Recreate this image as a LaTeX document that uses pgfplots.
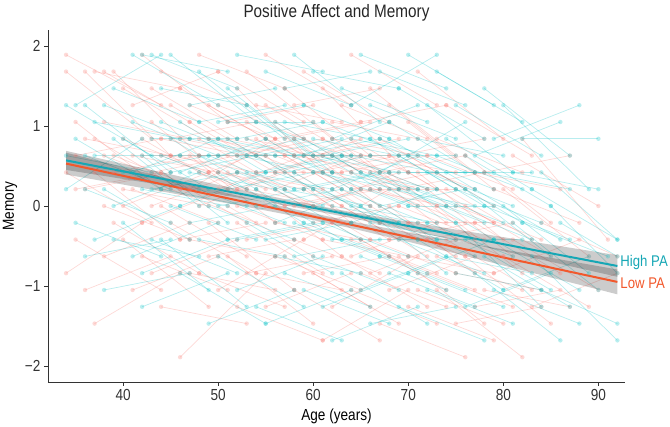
\documentclass[border=0pt]{standalone}
\usepackage{fontspec}
\setmainfont{Liberation Sans}[FakeStretch=0.85]
\usepackage{pgfplots}
\pgfplotsset{compat=1.18}
\definecolor{lowc}{HTML}{F8766D}
\definecolor{highc}{HTML}{00BFC4}
\definecolor{lowline}{HTML}{F2582C}
\definecolor{highline}{HTML}{16A7B5}
\definecolor{axc}{HTML}{333333}
\pgfplotsset{
  lowseg/.style={color=lowc, line width=0.7pt, draw opacity=0.28, mark=*, mark size=2.2pt,
    mark options={fill=lowc, fill opacity=0.27, draw opacity=0}},
  highseg/.style={color=highc, line width=0.7pt, draw opacity=0.28, mark=*, mark size=2.2pt,
    mark options={fill=highc, fill opacity=0.27, draw opacity=0}},
}
\newcommand{\lo}[4]{\addplot[lowseg] coordinates {(#1,#2) (#3,#4)};}
\newcommand{\hi}[4]{\addplot[highseg] coordinates {(#1,#2) (#3,#4)};}
\begin{document}
\begin{tikzpicture}
\begin{axis}[
  scale only axis, width=577pt, height=352pt,
  xmin=32.1, xmax=92.8, ymin=-2.2, ymax=2.2,
  clip=false,
  axis lines=left, axis line style={-, axc, line width=0.8pt},
  tick style={axc, line width=0.8pt}, tick align=outside, major tick length=4pt,
  xtick={40,50,60,70,80,90}, xticklabels={40,50,60,70,80,90},
  ytick={-2,-1,0,1,2}, yticklabels={−2,−1,0,1,2},
  ticklabel style={font=\fontsize{16}{18}\selectfont, text=axc},
  /pgf/number format/assume math mode=true,
  title={Positive Affect and Memory},
  title style={font=\fontsize{18}{21}\selectfont, text=black!85, at={(axis description cs:0.5,1)}, anchor=south, inner sep=0pt, yshift=3pt},
  xlabel={Age (years)}, ylabel={Memory},
  xlabel style={font=\fontsize{16}{19}\selectfont, at={(axis description cs:0.5,-0.0966)}, anchor=center},
  ylabel style={font=\fontsize{16}{19}\selectfont, at={(axis description cs:-0.066,0.5)}, anchor=center},
]
% Low PA individual trajectories
\lo{34}{1.68}{43}{0.84}\lo{34}{1.89}{44}{1.26}\lo{34}{0.42}{43}{-0.21}\lo{34}{-0.84}{42}{-0.21}
\lo{35}{1.05}{44}{0.21}\lo{35}{0.63}{44}{0.84}\lo{35}{-0.42}{44}{-1.05}\lo{36}{1.68}{45}{0.63}
\lo{36}{0.21}{45}{0.42}\lo{36}{-1.05}{45}{-0.63}\lo{37}{-1.47}{46}{-0.84}\lo{37}{1.68}{46}{1.47}
\lo{37}{0.84}{46}{0.21}\lo{38}{1.68}{47}{1.05}\lo{38}{0}{47}{-0.42}\lo{38}{-0.63}{47}{-0.21}
\lo{39}{1.68}{48}{0.63}\lo{39}{0.42}{48}{0.63}\lo{39}{-0.21}{48}{-0.84}\lo{40}{1.47}{49}{0.84}
\lo{40}{0.84}{49}{0.42}\lo{40}{-0.42}{49}{-1.26}\lo{41}{1.26}{50}{1.68}\lo{41}{0.21}{50}{-0.21}
\lo{41}{-1.05}{50}{-0.63}\lo{42}{1.89}{51}{1.05}\lo{42}{0.63}{51}{0.63}\lo{42}{-0.63}{51}{-1.05}
\lo{43}{1.05}{52}{0.21}\lo{43}{0}{52}{0.42}\lo{43}{-0.84}{52}{-0.42}\lo{44}{1.68}{53}{1.26}
\lo{44}{0.42}{53}{-0.21}\lo{44}{-1.26}{53}{-1.47}\lo{45}{1.26}{54}{0.63}\lo{45}{0.84}{54}{1.05}
\lo{45}{-0.21}{54}{-0.84}\lo{46}{-1.89}{55}{-0.84}\lo{46}{1.47}{55}{0.84}\lo{46}{0.21}{55}{0}
\lo{47}{1.05}{56}{0.42}\lo{47}{-0.42}{56}{-0.63}\lo{47}{0.63}{56}{-0.21}\lo{48}{1.89}{57}{1.47}
\lo{48}{0.84}{57}{0.21}\lo{48}{-0.84}{57}{-1.26}\lo{49}{0.42}{58}{0.84}\lo{49}{-0.21}{58}{-1.05}
\lo{49}{1.26}{58}{0.63}\lo{50}{1.68}{59}{1.05}\lo{50}{0.63}{59}{0}\lo{50}{-1.05}{59}{-0.42}
\lo{51}{1.05}{60}{1.26}\lo{51}{0}{60}{-0.63}\lo{51}{-0.63}{60}{-1.47}\lo{52}{1.47}{61}{0.42}
\lo{52}{0.42}{61}{0.21}\lo{52}{-1.26}{61}{-1.68}\lo{53}{0.84}{62}{0.63}\lo{53}{-0.42}{62}{-0.21}
\lo{53}{1.68}{62}{0.84}\lo{54}{0.21}{63}{-0.63}\lo{54}{1.26}{63}{1.05}\lo{54}{-0.84}{63}{-1.05}
\lo{55}{-1.26}{64}{-0.84}\lo{55}{0.63}{64}{-0.21}\lo{55}{1.89}{64}{1.26}\lo{56}{1.05}{65}{0.42}
\lo{56}{-0.21}{65}{-0.42}\lo{56}{0.42}{65}{0.84}\lo{57}{1.47}{66}{0.63}\lo{57}{-0.63}{66}{-1.26}
\lo{57}{0}{66}{0.21}\lo{58}{0.84}{67}{0}\lo{58}{-1.05}{67}{-1.68}\lo{58}{1.26}{67}{1.47}
\lo{59}{0.21}{68}{-0.42}\lo{59}{-0.42}{68}{0.21}\lo{59}{1.68}{68}{1.05}\lo{60}{0.63}{69}{0.84}
\lo{60}{-0.84}{69}{-1.47}\lo{60}{1.05}{69}{0.21}\lo{61}{-1.68}{70}{-1.05}\lo{61}{0.42}{70}{-0.21}
\lo{61}{1.47}{70}{0.42}\lo{62}{-0.21}{71}{-0.84}\lo{62}{0.84}{71}{0.63}\lo{62}{-1.26}{71}{-0.63}
\lo{63}{1.26}{72}{0.84}\lo{63}{0}{72}{-0.63}\lo{63}{-0.63}{72}{-1.26}\lo{64}{1.89}{73}{1.26}
\lo{64}{0.21}{73}{0.42}\lo{64}{-1.05}{73}{-1.47}\lo{65}{0.63}{74}{-0.21}\lo{65}{-0.42}{74}{-1.05}
\lo{65}{1.05}{74}{1.26}\lo{66}{-0.84}{75}{-0.42}\lo{66}{1.47}{75}{0.63}\lo{66}{0.42}{75}{-0.42}
\lo{67}{-1.47}{76}{-1.89}\lo{67}{0.84}{76}{0.21}\lo{67}{-0.21}{76}{-0.63}\lo{68}{1.26}{77}{0.42}
\lo{68}{0}{77}{-0.84}\lo{68}{-1.05}{77}{-0.63}\lo{69}{0.63}{78}{0.84}\lo{69}{-0.63}{78}{-1.47}
\lo{70}{1.05}{79}{0.21}\lo{70}{-0.21}{79}{-0.21}\lo{70}{-1.26}{79}{-1.68}\lo{71}{0.42}{80}{-0.42}
\lo{71}{1.68}{80}{0.84}\lo{72}{-0.84}{81}{-1.26}\lo{72}{0.21}{81}{-0.63}\lo{73}{0.84}{82}{0.42}
\lo{73}{-1.05}{82}{-1.89}\lo{74}{-0.42}{83}{-1.05}\lo{74}{1.26}{83}{0.63}\lo{75}{0}{84}{-0.42}
\lo{75}{-1.47}{84}{-1.26}\lo{76}{0.63}{85}{-0.21}\lo{76}{-0.63}{85}{-1.47}\lo{77}{-0.21}{86}{-0.84}
\lo{78}{0.42}{87}{0.63}\lo{78}{-1.05}{87}{-1.26}\lo{79}{-0.84}{88}{-0.42}\lo{80}{0.21}{89}{-0.63}
\lo{81}{-0.42}{90}{-1.05}\lo{82}{0.84}{91}{-0.42}\lo{83}{-1.26}{92}{-0.84}
\lo{44}{0.63}{53}{0.21}\lo{50}{0.84}{59}{0.42}\lo{53}{0.21}{62}{0}\lo{56}{0.63}{65}{0.21}
\lo{58}{0.42}{67}{-0.21}\lo{60}{0.21}{69}{-0.42}\lo{62}{0.42}{71}{0}\lo{64}{-0.42}{73}{-0.84}
\lo{66}{0}{75}{-0.63}\lo{68}{-0.42}{77}{-0.21}\lo{52}{-0.21}{61}{-0.84}\lo{47}{0.21}{56}{0.84}
\lo{35}{0.21}{44}{0.42}\lo{36}{0.84}{45}{0.63}\lo{37}{0.42}{46}{-0.42}\lo{38}{1.05}{47}{0.84}
\lo{39}{0.63}{48}{0.21}\lo{40}{0.21}{49}{0}\lo{41}{0.63}{50}{0.42}\lo{42}{0.84}{51}{0.21}
\lo{42}{-0.21}{51}{0.21}\lo{43}{0.42}{52}{0.63}\lo{43}{1.47}{52}{0.84}\lo{44}{0}{53}{-0.63}
\lo{45}{0.63}{54}{0.42}\lo{45}{0.21}{54}{-0.21}\lo{46}{0.84}{55}{0.63}\lo{46}{-0.42}{55}{-0.21}
\lo{47}{1.26}{56}{0.84}\lo{47}{-0.84}{56}{-1.05}\lo{48}{0.42}{57}{0}\lo{48}{0}{57}{0.42}
\lo{49}{0.84}{58}{0.63}\lo{49}{-0.63}{58}{-0.42}\lo{50}{0.21}{59}{0.63}\lo{50}{1.26}{59}{0.84}
\lo{51}{0.42}{60}{0}\lo{51}{0.84}{60}{0.63}\lo{52}{0.63}{61}{0.84}\lo{52}{0}{61}{-0.42}
\lo{53}{1.05}{62}{0.42}\lo{53}{-0.84}{62}{-0.63}\lo{54}{0.42}{63}{0.42}\lo{54}{0.84}{63}{0.21}
\lo{55}{0}{64}{-0.21}\lo{55}{1.26}{64}{0.63}\lo{56}{-0.63}{65}{-1.05}\lo{56}{0.84}{65}{1.05}
\lo{57}{0.63}{66}{0}\lo{57}{0.21}{66}{-0.42}\lo{58}{0}{67}{0.21}\lo{58}{-0.42}{67}{-0.84}
\lo{59}{0.84}{68}{0.42}\lo{59}{-0.84}{68}{-0.63}\lo{60}{0.42}{69}{0.63}\lo{60}{-0.21}{69}{0}
\lo{61}{0.63}{70}{0.21}\lo{61}{-0.42}{70}{-0.63}\lo{62}{0.21}{71}{-0.42}\lo{62}{1.05}{71}{0.84}
\lo{63}{0.42}{72}{0.63}\lo{63}{-0.21}{72}{-0.42}\lo{64}{0.84}{73}{0.21}\lo{64}{-0.63}{73}{-0.21}
\lo{65}{0.21}{74}{0}\lo{65}{-0.84}{74}{-1.26}\lo{66}{0.63}{75}{0.42}\lo{66}{-0.42}{75}{-0.84}
\lo{67}{0.21}{76}{-0.21}\lo{67}{0.42}{76}{0.63}\lo{68}{0.63}{77}{0.21}\lo{68}{-0.63}{77}{-1.05}
\lo{69}{0}{78}{-0.42}\lo{69}{0.21}{78}{0.42}\lo{70}{0.42}{79}{-0.21}\lo{70}{-0.63}{79}{-0.84}
\lo{71}{-0.21}{80}{-0.63}\lo{71}{-1.05}{80}{-1.47}\lo{72}{0.63}{81}{0.21}\lo{72}{-0.42}{81}{-0.21}
\lo{73}{0}{82}{-0.84}\lo{73}{-0.63}{82}{-1.05}\lo{74}{0.21}{83}{-0.42}\lo{75}{-0.84}{84}{-1.05}
\lo{76}{0}{85}{-0.63}\lo{77}{-1.26}{86}{-1.05}\lo{77}{0.42}{86}{0.21}\lo{79}{0.21}{88}{-0.21}
\lo{80}{-0.63}{89}{-1.26}\lo{81}{0.63}{90}{0}\lo{84}{-0.21}{92}{-0.63}\lo{38}{0.63}{47}{0.21}
\lo{40}{0}{49}{0.42}\lo{44}{0.84}{53}{0.63}\lo{46}{0.63}{55}{0.21}\lo{48}{0.63}{57}{0.63}
\lo{50}{0.42}{59}{0.21}\lo{52}{0.21}{61}{0.63}\lo{54}{0.63}{63}{0}\lo{56}{0.21}{65}{0.63}
\lo{58}{0.63}{67}{0.42}\lo{60}{0}{69}{0.42}\lo{62}{0.63}{71}{0.21}\lo{64}{0.42}{73}{0}
\lo{66}{0.21}{75}{0.21}\lo{68}{0.42}{77}{-0.42}\lo{70}{0.63}{79}{0}\lo{55}{0.84}{64}{0.42}
\lo{57}{0.84}{66}{1.05}\lo{59}{0.63}{68}{0.63}\lo{61}{0.84}{70}{0.42}\lo{63}{0.63}{72}{0.21}
% High PA individual trajectories
\hi{34}{1.26}{43}{0.63}\hi{34}{0.21}{42}{0.84}\hi{35}{1.26}{44}{1.89}\hi{35}{-0.21}{44}{-0.63}
\hi{36}{1.26}{45}{0.42}\hi{36}{0.63}{45}{0.21}\hi{37}{-0.42}{46}{0}\hi{37}{1.05}{46}{0.84}
\hi{38}{0.21}{47}{-0.42}\hi{38}{-1.05}{47}{-0.84}\hi{39}{1.47}{48}{1.05}\hi{39}{0.84}{48}{0}
\hi{40}{-0.21}{49}{-1.05}\hi{40}{0.42}{49}{0.63}\hi{41}{1.89}{50}{1.26}\hi{41}{-0.63}{50}{-0.21}
\hi{42}{1.89}{51}{1.68}\hi{42}{0.63}{51}{-0.21}\hi{42}{-1.26}{51}{-0.84}\hi{43}{1.89}{52}{1.47}
\hi{43}{0.21}{52}{0.42}\hi{44}{1.05}{53}{0.63}\hi{44}{-0.42}{53}{-1.26}\hi{45}{1.89}{54}{1.05}
\hi{45}{0.84}{54}{0.21}\hi{46}{-0.84}{55}{-1.47}\hi{46}{0.42}{55}{0.84}\hi{47}{1.26}{56}{1.47}
\hi{47}{-0.21}{56}{0}\hi{48}{0.63}{57}{0.21}\hi{48}{1.68}{57}{0.84}\hi{49}{-1.47}{58}{-1.05}
\hi{49}{0}{58}{-0.42}\hi{50}{1.05}{59}{1.26}\hi{50}{-0.63}{59}{-1.26}\hi{50}{0.42}{59}{-0.21}
\hi{51}{1.47}{60}{0.63}\hi{51}{0.21}{60}{0.42}\hi{52}{-1.05}{61}{-0.63}\hi{52}{0.84}{61}{1.05}
\hi{52}{1.89}{61}{1.68}\hi{53}{-0.21}{62}{-0.84}\hi{53}{1.26}{62}{0.42}\hi{54}{0.63}{63}{0.84}
\hi{54}{-1.26}{63}{-1.68}\hi{54}{0}{63}{0.21}\hi{55}{1.68}{64}{1.26}\hi{55}{-0.42}{64}{-0.21}
\hi{55}{-1.47}{64}{-1.05}\hi{56}{1.05}{65}{0.42}\hi{56}{0.21}{65}{-0.42}\hi{57}{-0.84}{66}{-1.26}
\hi{57}{1.47}{66}{1.68}\hi{57}{0.42}{66}{0.63}\hi{58}{1.89}{67}{1.05}\hi{58}{-0.21}{67}{-0.63}
\hi{58}{0.84}{67}{0.21}\hi{59}{-1.05}{68}{-1.47}\hi{59}{0.63}{68}{1.05}\hi{59}{1.26}{68}{0.84}
\hi{60}{0}{69}{-0.21}\hi{60}{-0.63}{69}{-1.05}\hi{60}{1.68}{69}{1.47}\hi{61}{0.42}{70}{0}
\hi{61}{-1.26}{70}{-0.84}\hi{61}{1.05}{70}{0.63}\hi{62}{-1.68}{71}{-1.26}\hi{62}{0.84}{71}{1.26}
\hi{62}{-0.42}{71}{-0.42}\hi{63}{1.47}{72}{1.05}\hi{63}{0.21}{72}{-0.21}\hi{63}{-0.84}{72}{-1.47}
\hi{64}{1.26}{73}{1.89}\hi{64}{-0.21}{73}{0.21}\hi{64}{0.63}{73}{0.42}\hi{65}{-1.05}{74}{-0.63}
\hi{65}{1.89}{74}{1.47}\hi{65}{0}{74}{-0.84}\hi{66}{0.84}{75}{0.21}\hi{66}{-1.47}{75}{-1.26}
\hi{66}{1.26}{75}{0.84}\hi{67}{0.42}{76}{1.05}\hi{67}{-0.63}{76}{-1.05}\hi{67}{1.68}{76}{1.26}
\hi{68}{-0.21}{77}{-0.63}\hi{68}{1.05}{77}{0.42}\hi{69}{-1.26}{78}{-1.68}\hi{69}{0.63}{78}{0}
\hi{69}{1.47}{78}{0.84}\hi{70}{0.21}{79}{-0.42}\hi{70}{-0.84}{79}{-0.42}\hi{70}{1.89}{79}{1.26}
\hi{71}{-0.42}{80}{-1.05}\hi{71}{0.84}{80}{0.63}\hi{72}{1.26}{81}{0.42}\hi{72}{-1.05}{81}{-1.47}
\hi{73}{0.42}{82}{-0.21}\hi{73}{1.68}{82}{1.05}\hi{74}{-0.63}{83}{-0.84}\hi{74}{0.84}{83}{0.21}
\hi{75}{1.26}{84}{0.63}\hi{75}{-0.21}{84}{-1.26}\hi{76}{0.21}{85}{-0.63}\hi{76}{-1.26}{85}{-0.84}
\hi{77}{0.63}{86}{1.05}\hi{77}{-0.84}{86}{-1.68}\hi{78}{1.47}{87}{0.63}\hi{78}{0}{87}{-0.42}
\hi{79}{0.84}{88}{1.26}\hi{79}{-0.42}{88}{-1.05}\hi{80}{1.26}{89}{0.21}\hi{80}{-1.05}{89}{-0.63}
\hi{81}{0.42}{90}{0.21}\hi{82}{-0.21}{91}{-0.63}\hi{82}{0.84}{90}{0.84}\hi{83}{-0.63}{92}{-1.68}
\hi{84}{0.42}{92}{-0.42}\hi{85}{0}{92}{-0.84}\hi{86}{-0.21}{92}{-0.63}
\hi{45}{0.42}{54}{0.63}\hi{49}{0.63}{58}{0.21}\hi{53}{0.42}{62}{0.21}\hi{56}{-0.21}{65}{0.21}
\hi{58}{0.21}{67}{0.42}\hi{60}{0.42}{69}{0.21}\hi{62}{0}{71}{-0.21}\hi{64}{0.21}{73}{-0.42}
\hi{66}{-0.21}{75}{-0.42}\hi{68}{0.21}{77}{0}\hi{51}{-0.42}{60}{-0.21}\hi{47}{0.84}{56}{0.63}
\hi{34}{0.63}{43}{0.42}\hi{35}{0.84}{44}{0.21}\hi{36}{0.21}{45}{-0.21}\hi{37}{0.63}{46}{0.63}
\hi{38}{1.26}{47}{0.84}\hi{39}{0}{48}{0.42}\hi{40}{0.84}{49}{0.21}\hi{41}{0.42}{50}{0.84}
\hi{41}{1.05}{50}{0.63}\hi{42}{0.21}{51}{0}\hi{43}{0.84}{52}{0.84}\hi{43}{-0.42}{52}{-0.84}
\hi{44}{0.63}{53}{0.21}\hi{44}{1.47}{53}{1.26}\hi{45}{0}{54}{-0.42}\hi{46}{1.05}{55}{0.42}
\hi{46}{0.63}{55}{0.63}\hi{47}{0.42}{56}{0.21}\hi{48}{-0.42}{57}{-0.63}\hi{48}{1.05}{57}{1.26}
\hi{49}{0.84}{58}{0.42}\hi{50}{0.63}{59}{0.84}\hi{50}{0}{59}{0.21}\hi{51}{0.84}{60}{0.21}
\hi{51}{1.05}{60}{1.05}\hi{52}{0.42}{61}{0}\hi{52}{-0.42}{61}{-0.21}\hi{53}{0.63}{62}{0.63}
\hi{53}{0.84}{62}{0.42}\hi{54}{0.21}{63}{-0.42}\hi{54}{1.05}{63}{0.63}\hi{55}{0.42}{64}{0.63}
\hi{55}{0.84}{64}{0.21}\hi{56}{0.63}{65}{0.63}\hi{56}{-0.63}{65}{-0.84}\hi{57}{0.21}{66}{0}
\hi{57}{1.05}{66}{0.84}\hi{58}{0.42}{67}{-0.21}\hi{58}{-0.63}{67}{-0.42}\hi{59}{0.21}{68}{0.42}
\hi{59}{-0.21}{68}{-0.63}\hi{60}{0.84}{69}{0.63}\hi{60}{0.21}{69}{-0.21}\hi{61}{0.63}{70}{0.84}
\hi{61}{-0.21}{70}{-0.63}\hi{62}{0.42}{71}{0.21}\hi{62}{0.21}{71}{0.63}\hi{63}{0.63}{72}{0.21}
\hi{63}{-0.42}{72}{-0.84}\hi{64}{0.84}{73}{0.63}\hi{64}{0}{73}{-0.21}\hi{65}{0.42}{74}{0}
\hi{65}{-0.63}{74}{-1.05}\hi{66}{0.21}{75}{-0.21}\hi{66}{0.63}{75}{0.63}\hi{67}{0}{76}{0.21}
\hi{67}{0.84}{76}{0.42}\hi{68}{0.42}{77}{0.42}\hi{68}{-0.84}{77}{-1.26}\hi{69}{0.21}{78}{-0.21}
\hi{69}{-0.42}{78}{-0.84}\hi{70}{0.63}{79}{0.21}\hi{70}{0}{79}{0}\hi{71}{0.21}{80}{-0.21}
\hi{71}{-0.84}{80}{-1.26}\hi{72}{0.42}{81}{0}\hi{72}{-0.21}{81}{-0.63}\hi{73}{0.63}{82}{0.21}
\hi{73}{-0.42}{82}{-0.42}\hi{74}{0}{83}{-0.42}\hi{74}{0.42}{83}{0.42}\hi{75}{0.21}{84}{-0.21}
\hi{75}{-0.84}{84}{-1.05}\hi{76}{0.63}{85}{0}\hi{76}{-0.42}{85}{-1.05}\hi{77}{0.21}{86}{-0.42}
\hi{78}{-0.63}{87}{-1.26}\hi{78}{0.42}{87}{0.21}\hi{79}{-1.05}{88}{-1.47}\hi{80}{0}{89}{-0.84}
\hi{81}{-0.21}{90}{-1.05}\hi{83}{0.21}{92}{-0.42}\hi{84}{-1.05}{92}{-1.47}\hi{36}{-0.63}{45}{-0.42}
\hi{39}{-0.42}{48}{-0.63}\hi{42}{-0.84}{51}{-0.42}\hi{44}{0.21}{53}{0}\hi{46}{0}{55}{0.42}
\hi{48}{0.21}{57}{-0.21}\hi{50}{0.84}{59}{0.63}\hi{52}{0.63}{61}{0.42}\hi{54}{0.42}{63}{0.63}
\hi{56}{0.42}{65}{0}\hi{58}{0.63}{67}{0.84}\hi{60}{0.63}{69}{0.42}\hi{62}{0.63}{71}{0}
\hi{64}{0.42}{73}{0.21}\hi{66}{0.42}{75}{0}\hi{68}{0.84}{77}{0.21}\hi{70}{0.42}{79}{0.42}
% confidence bands
\addplot[draw=none, fill=black, fill opacity=0.2] coordinates {
 (34,0.689) (40,0.528) (46,0.369) (52,0.212) (58,0.061) (64,-0.076) (70,-0.197) (76,-0.314) (82,-0.427) (88,-0.540) (92,-0.615)
 (92,-0.885) (88,-0.778) (82,-0.617) (76,-0.458) (70,-0.301) (64,-0.150) (58,-0.013) (52,0.108) (46,0.225) (40,0.338) (34,0.451)} -- cycle;
\addplot[draw=none, fill=black, fill opacity=0.2] coordinates {
 (34,0.667) (40,0.486) (46,0.307) (52,0.130) (58,-0.039) (64,-0.192) (70,-0.329) (76,-0.458) (82,-0.585) (88,-0.710) (92,-0.794)
 (92,-1.104) (88,-0.984) (82,-0.803) (76,-0.624) (70,-0.447) (64,-0.278) (58,-0.125) (52,0.012) (46,0.141) (40,0.268) (34,0.393)} -- cycle;
% fitted lines
\addplot[highline, line width=2pt] coordinates {(34,0.570) (92,-0.750)};
\addplot[lowline, line width=2pt] coordinates {(34,0.530) (92,-0.949)};
\node[anchor=west, text=highline, font=\fontsize{15.5}{18}\selectfont, inner sep=0pt] at (axis cs:92.3,-0.70) {High PA};
\node[anchor=west, text=lowline, font=\fontsize{15.5}{18}\selectfont, inner sep=0pt] at (axis cs:92.3,-0.96) {Low PA};
\end{axis}
\pgfresetboundingbox
\path[use as bounding box] (-48pt,-45pt) rectangle (622pt,382pt);
\end{tikzpicture}
\end{document}
